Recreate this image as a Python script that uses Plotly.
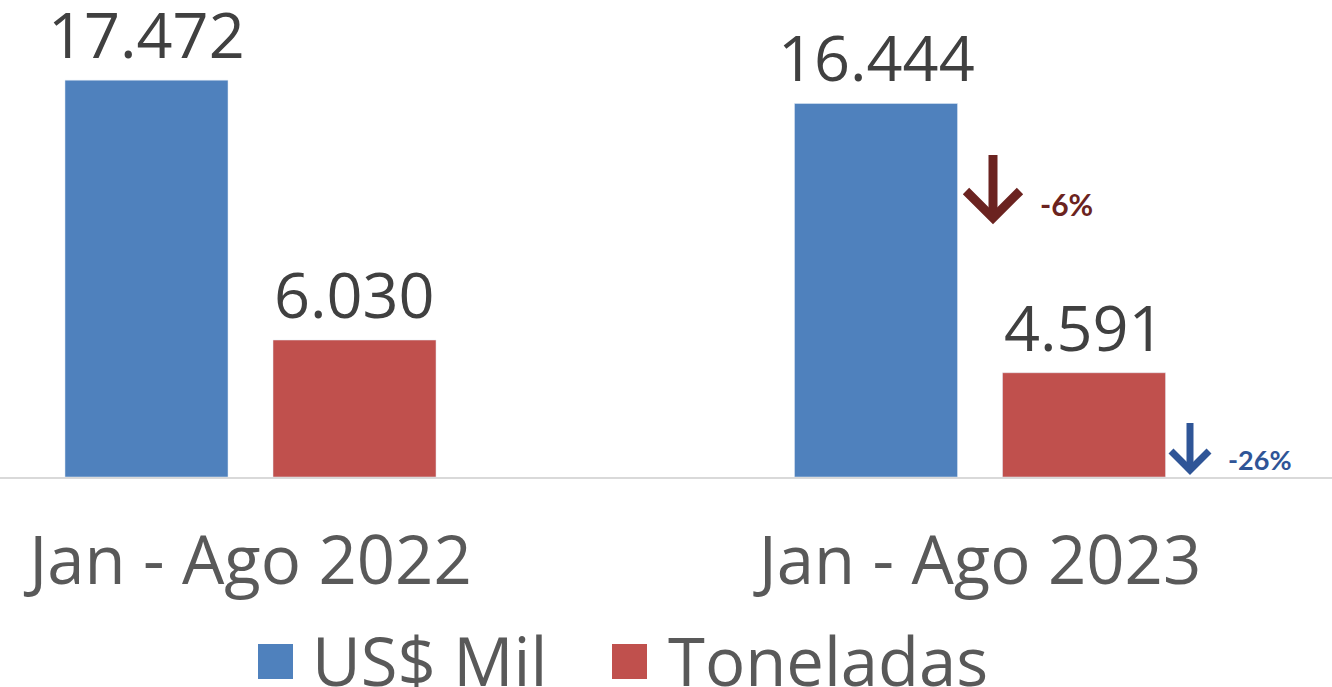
import plotly.graph_objects as go

categories = ["Jan - Ago 2022", "Jan - Ago 2023"]
series_names = ["US$ Mil", "Toneladas"]
usd_values = [17472, 16444]
ton_values = [6030, 4591]
value_labels_usd = ["17.472", "16.444"]
value_labels_ton = ["6.030", "4.591"]
change_labels = ["-6%", "-26%"]

BLUE = "#4F81BD"
RED = "#C0504D"
W, H = 1332, 687
PLOT_H = 477  # plot area height in px (margin top 0)

def px(x):
    return x / W

def py(y):
    return (PLOT_H - y) / PLOT_H

FONT = "Open Sans"

fig = go.Figure()
fig.add_trace(go.Bar(x=categories, y=usd_values, name=series_names[0],
                     marker_color=BLUE, showlegend=False, hoverinfo="skip"))
fig.add_trace(go.Bar(x=categories, y=ton_values, name=series_names[1],
                     marker_color=RED, showlegend=False, hoverinfo="skip"))

annotations = []
for i, cat in enumerate(categories):
    annotations.append(dict(x=cat, y=usd_values[i], xref="x", yref="y",
                            text=value_labels_usd[i], showarrow=False,
                            xshift=-104, yshift=2, yanchor="bottom",
                            font=dict(family=FONT, size=63, color="#404040")))
    annotations.append(dict(x=cat, y=ton_values[i], xref="x", yref="y",
                            text=value_labels_ton[i], showarrow=False,
                            xshift=104, yshift=2, yanchor="bottom",
                            font=dict(family=FONT, size=63, color="#404040")))

# change labels
annotations.append(dict(x=px(1038), y=py(204), xref="paper", yref="paper",
                        text="<b>" + change_labels[0] + "</b>", showarrow=False,
                        xanchor="left", yanchor="middle",
                        font=dict(family="Lato", size=30, color="#6B2320")))
annotations.append(dict(x=px(1226), y=py(459), xref="paper", yref="paper",
                        text="<b>" + change_labels[1] + "</b>", showarrow=False,
                        xanchor="left", yanchor="middle",
                        font=dict(family="Lato", size=27, color="#2F5597")))

# custom legend
legend_items = [(series_names[0], BLUE, 258, 310), (series_names[1], RED, 612, 666)]
shapes = []
for name, col, sx, tx in legend_items:
    shapes.append(dict(type="rect", xref="paper", yref="paper",
                       x0=px(sx), x1=px(sx + 35), y0=py(679), y1=py(644),
                       fillcolor=col, line=dict(width=0)))
    annotations.append(dict(x=px(tx), y=py(660), xref="paper", yref="paper",
                            text=name, showarrow=False, xanchor="left", yanchor="middle",
                            font=dict(family=FONT, size=67, color="#595959")))

def arrow(xc, ytop, ytip, half, color, width):
    return [
        dict(type="path", xref="paper", yref="paper",
             path=f"M {px(xc)},{py(ytop)} L {px(xc)},{py(ytip)}",
             line=dict(color=color, width=width)),
        dict(type="path", xref="paper", yref="paper",
             path=f"M {px(xc-half)},{py(ytip-half)} L {px(xc)},{py(ytip)} L {px(xc+half)},{py(ytip-half)}",
             line=dict(color=color, width=width)),
    ]

shapes += arrow(993, 155, 218, 27, "#6B2320", 9)
shapes += arrow(1190, 423, 470, 19, "#2F5597", 7)

fig.update_layout(
    width=W, height=H,
    margin=dict(l=0, r=0, t=0, b=H - PLOT_H, pad=0),
    paper_bgcolor="white", plot_bgcolor="white",
    barmode="group", bargap=0.4297, bargroupgap=0.2163,
    annotations=annotations, shapes=shapes,
    xaxis=dict(range=[-0.3434, 1.4825], showline=True, linecolor="#D9D9D9",
               linewidth=2, ticks="", showgrid=False,
               tickfont=dict(family=FONT, size=67, color="#595959"),
               ticklabelstandoff=25),
    yaxis=dict(range=[0, 21000], visible=False, showgrid=False, zeroline=False),
)

fig.write_html("out.html", config={"displayModeBar": False},
               post_script="document.body.style.margin='0';document.body.style.overflow='hidden';")
